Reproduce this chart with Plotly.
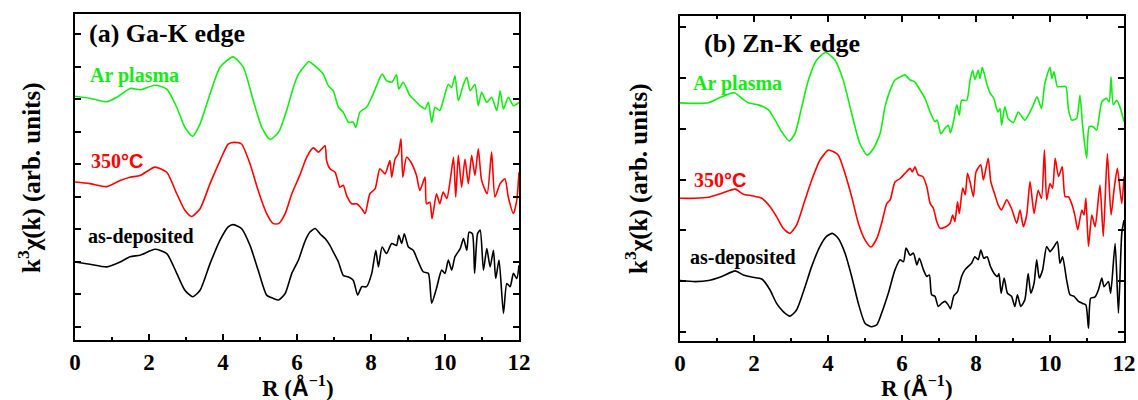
import plotly.graph_objects as go

# ---------------- data ----------------
# Panel (a) Ga-K edge
ga_ar = [(0, 7.09), (0.4, 7.03), (0.86, 6.92), (1.13, 7.06), (1.49, 7.33), (1.76, 7.29), (2.16, 7.43), (2.48, 7.31),
         (2.75, 6.75), (2.97, 6.13), (3.18, 5.86), (3.38, 6.24), (3.65, 7.16), (3.92, 7.98), (4.27, 8.30), (4.55, 7.98),
         (4.82, 6.95), (5.05, 6.13), (5.27, 5.76), (5.5, 5.98), (5.72, 6.65), (5.9, 7.36), (6.04, 7.77), (6.21, 8.03),
         (6.32, 8.16), (6.4, 8.1), (6.53, 7.98), (6.71, 7.77), (6.85, 7.41), (6.98, 7.26), (7.12, 6.75), (7.25, 6.6),
         (7.39, 6.29), (7.52, 6.29), (7.59, 6.13), (7.7, 6.6), (7.88, 6.75), (8.02, 7.06), (8.15, 7.41), (8.3, 7.77),
         (8.42, 7.57), (8.56, 7.52), (8.69, 7.75), (8.75, 7.31), (8.87, 7.52), (9.05, 7.11), (9.19, 6.95), (9.32, 6.8),
         (9.46, 6.7), (9.55, 6.9), (9.64, 6.29), (9.73, 6.75), (9.86, 6.65), (9.95, 6.95), (10.09, 7.46), (10.18, 7.36),
         (10.27, 7.72), (10.36, 6.95), (10.5, 7.46), (10.59, 7.67), (10.68, 7.26), (10.81, 7.46), (10.9, 6.8),
         (10.99, 7.21), (11.13, 6.9), (11.26, 7.06), (11.4, 6.65), (11.49, 7.26), (11.58, 6.7), (11.71, 7.06),
         (11.85, 6.8), (12, 6.9)]
ga_350 = [(0, 4.45), (0.4, 4.40), (0.86, 4.31), (1.22, 4.5), (1.49, 4.6), (1.76, 4.65), (2.16, 4.91), (2.48, 4.75),
          (2.75, 4.09), (2.97, 3.58), (3.15, 3.39), (3.38, 3.63), (3.65, 4.4), (3.92, 5.11), (4.14, 5.62), (4.32, 5.67),
          (4.5, 5.62), (4.73, 5.01), (4.95, 4.19), (5.18, 3.48), (5.36, 3.17), (5.5, 3.17), (5.68, 3.48), (5.86, 4.09),
          (6.08, 4.67), (6.26, 5.21), (6.44, 5.5), (6.58, 5.37), (6.67, 5.47), (6.76, 5.57), (6.8, 5.11), (6.89, 4.86),
          (7.03, 4.75), (7.16, 4.29), (7.25, 4.35), (7.34, 4.04), (7.48, 3.78), (7.61, 3.78), (7.75, 3.63), (7.84, 3.48),
          (7.97, 4.09), (8.11, 4.24), (8.24, 4.86), (8.38, 4.7), (8.51, 5.11), (8.56, 4.6), (8.65, 5.16), (8.74, 5.32),
          (8.81, 5.78), (8.86, 4.6), (8.96, 5.21), (9.08, 5.06), (9.23, 4.65), (9.32, 4.19), (9.46, 4.6), (9.5, 3.78),
          (9.59, 3.83), (9.65, 3.32), (9.77, 4.09), (9.86, 3.78), (9.95, 4.14), (10.05, 3.94), (10.14, 4.5),
          (10.23, 5.21), (10.29, 3.99), (10.36, 5.27), (10.45, 4.29), (10.54, 5.16), (10.63, 4.4), (10.72, 5.27),
          (10.81, 4.65), (10.9, 5.47), (10.99, 4.5), (11.14, 4.09), (11.26, 5.37), (11.35, 3.99), (11.49, 4.4),
          (11.62, 4.55), (11.71, 3.99), (11.85, 3.48), (11.94, 3.89), (12, 4.75)]
ga_dep = [(0, 1.99), (0.4, 1.92), (0.86, 1.84), (1.22, 1.99), (1.49, 2.15), (1.76, 2.2), (2.16, 2.38), (2.48, 2.25),
          (2.75, 1.64), (2.97, 1.12), (3.18, 0.92), (3.38, 1.12), (3.65, 1.94), (3.92, 2.66), (4.14, 3.07), (4.27, 3.14),
          (4.5, 3.02), (4.73, 2.5), (4.95, 1.74), (5.18, 0.97), (5.36, 0.87), (5.5, 0.82), (5.68, 1.02), (5.86, 1.64),
          (6.04, 2.05), (6.21, 2.61), (6.35, 2.91), (6.49, 3.02), (6.62, 2.86), (6.76, 2.71), (6.89, 2.5), (6.98, 2.3),
          (7.12, 1.99), (7.25, 1.58), (7.39, 1.53), (7.52, 1.43), (7.64, 0.97), (7.75, 1.23), (7.88, 1.23), (8.02, 1.64),
          (8.13, 2.35), (8.2, 1.84), (8.3, 2.45), (8.42, 2.25), (8.56, 2.56), (8.69, 2.5), (8.75, 2.81), (8.83, 2.56),
          (8.9, 2.86), (9.01, 2.45), (9.14, 2.35), (9.28, 1.99), (9.41, 1.69), (9.55, 1.64), (9.64, 0.72), (9.77, 1.18),
          (9.91, 1.74), (10.0, 1.64), (10.09, 2.05), (10.18, 1.74), (10.27, 2.15), (10.41, 2.4), (10.5, 2.71),
          (10.59, 2.35), (10.65, 2.91), (10.74, 2.86), (10.8, 1.64), (10.88, 2.86), (10.95, 2.97), (11.04, 1.74),
          (11.13, 2.4), (11.22, 1.84), (11.31, 2.35), (11.37, 1.48), (11.46, 2.05), (11.58, 0.41), (11.67, 1.33),
          (11.76, 1.23), (11.85, 1.64), (11.94, 1.48), (12, 1.89)]

# Panel (b) Zn-K edge
zn_ar = [(0, 4.51), (0.41, 4.5), (0.77, 4.51), (1.13, 4.63), (1.47, 4.71), (1.67, 4.6), (1.85, 4.51), (2.12, 4.47),
         (2.39, 4.37), (2.57, 4.17), (2.75, 3.94), (2.95, 3.76), (3.11, 3.91), (3.29, 4.43), (3.47, 4.96), (3.69, 5.35),
         (3.94, 5.5), (4.19, 5.35), (4.41, 4.96), (4.64, 4.3), (4.86, 3.71), (5.06, 3.48), (5.23, 3.61), (5.41, 3.91),
         (5.54, 4.43), (5.68, 4.76), (5.81, 4.96), (5.95, 5.02), (6.08, 5.06), (6.22, 4.96), (6.35, 4.92), (6.49, 4.76),
         (6.62, 4.6), (6.76, 4.33), (6.89, 4.14), (6.95, 4.17), (7.05, 3.9), (7.16, 4.01), (7.25, 4.07), (7.31, 3.92),
         (7.4, 4.17), (7.48, 4.47), (7.55, 4.27), (7.61, 4.56), (7.75, 4.56), (7.84, 4.96), (7.91, 5.15), (7.97, 4.97),
         (8.06, 5.15), (8.11, 4.99), (8.17, 5.21), (8.29, 4.89), (8.38, 4.7), (8.48, 4.6), (8.59, 4.33), (8.65, 4.4),
         (8.69, 4.07), (8.78, 4.43), (8.87, 4.2), (9.01, 4.12), (9.14, 4.33), (9.32, 4.17), (9.46, 4.33), (9.55, 4.47),
         (9.65, 4.63), (9.77, 4.4), (9.86, 4.89), (10.0, 5.21), (10.05, 4.99), (10.11, 5.12), (10.2, 4.83),
         (10.32, 4.83), (10.43, 4.83), (10.5, 4.37), (10.59, 4.17), (10.72, 4.2), (10.81, 4.66), (10.88, 4.07),
         (10.99, 3.42), (11.06, 4.04), (11.17, 4.04), (11.26, 3.97), (11.4, 4.53), (11.53, 4.6), (11.6, 4.53),
         (11.65, 5.02), (11.71, 4.47), (11.8, 4.56), (11.89, 4.43), (12, 4.14)]
zn_350 = [(0, 2.63), (0.41, 2.63), (0.77, 2.65), (1.13, 2.73), (1.49, 2.81), (1.71, 2.71), (1.94, 2.68), (2.21, 2.63),
          (2.43, 2.47), (2.61, 2.27), (2.79, 2.04), (2.97, 1.94), (3.15, 2.1), (3.38, 2.6), (3.56, 2.99), (3.78, 3.38),
          (4.01, 3.58), (4.14, 3.55), (4.28, 3.48), (4.46, 3.12), (4.64, 2.66), (4.82, 2.14), (5.0, 1.81), (5.16, 1.67),
          (5.32, 1.84), (5.45, 2.14), (5.59, 2.53), (5.68, 2.6), (5.81, 2.95), (5.95, 3.02), (6.08, 3.12), (6.22, 3.22),
          (6.28, 3.15), (6.35, 3.25), (6.44, 3.09), (6.56, 3.06), (6.67, 2.86), (6.76, 2.53), (6.85, 2.43), (6.94, 2.17),
          (7.03, 2.04), (7.16, 2.06), (7.3, 2.14), (7.37, 2.3), (7.43, 2.17), (7.5, 2.56), (7.55, 2.33), (7.64, 2.83),
          (7.71, 2.7), (7.77, 3.12), (7.84, 2.95), (7.93, 2.66), (8.0, 3.15), (8.13, 3.29), (8.2, 2.99), (8.33, 3.42),
          (8.4, 2.96), (8.51, 2.7), (8.6, 2.5), (8.69, 2.4), (8.83, 2.6), (8.96, 2.43), (9.1, 2.14), (9.19, 2.4),
          (9.28, 2.07), (9.37, 2.3), (9.46, 2.96), (9.57, 2.33), (9.68, 2.79), (9.77, 2.63), (9.85, 3.58), (9.91, 2.6),
          (10.0, 2.92), (10.07, 2.83), (10.14, 3.42), (10.23, 3.06), (10.33, 3.25), (10.41, 2.66), (10.5, 2.66),
          (10.61, 2.47), (10.68, 2.27), (10.75, 2.01), (10.86, 2.4), (10.92, 2.3), (10.97, 2.63), (11.04, 1.68),
          (11.13, 2.3), (11.22, 2.07), (11.35, 2.89), (11.44, 1.88), (11.55, 3.51), (11.65, 2.3), (11.73, 2.79),
          (11.82, 3.22), (11.94, 2.53), (12, 3.06)]
zn_dep = [(0, 1.01), (0.41, 0.99), (0.77, 1.01), (1.13, 1.09), (1.49, 1.2), (1.71, 1.12), (1.94, 1.08), (2.21, 1.04),
          (2.43, 0.83), (2.61, 0.56), (2.79, 0.4), (2.97, 0.31), (3.15, 0.43), (3.38, 0.89), (3.56, 1.29), (3.78, 1.68),
          (3.96, 1.88), (4.12, 1.94), (4.28, 1.84), (4.46, 1.55), (4.64, 1.09), (4.82, 0.56), (5.0, 0.17), (5.18, 0.1),
          (5.32, 0.14), (5.45, 0.37), (5.63, 0.76), (5.81, 1.22), (5.95, 1.42), (6.04, 1.38), (6.11, 1.65), (6.22, 1.51),
          (6.31, 1.55), (6.4, 1.32), (6.47, 1.45), (6.58, 1.22), (6.67, 1.09), (6.74, 1.12), (6.8, 0.73), (6.89, 0.7),
          (6.98, 0.5), (7.07, 0.56), (7.16, 0.6), (7.25, 0.53), (7.31, 0.45), (7.4, 0.71), (7.5, 0.79), (7.61, 1.09),
          (7.7, 1.22), (7.79, 1.29), (7.88, 1.35), (7.97, 1.48), (8.06, 1.42), (8.13, 1.61), (8.21, 1.45), (8.3, 1.48),
          (8.39, 1.29), (8.49, 1.15), (8.58, 1.09), (8.62, 1.15), (8.68, 0.76), (8.76, 1.06), (8.85, 0.76), (8.96, 0.7),
          (9.05, 0.5), (9.12, 0.73), (9.21, 0.5), (9.32, 0.63), (9.41, 1.15), (9.48, 0.76), (9.57, 0.96), (9.64, 1.42),
          (9.71, 1.06), (9.8, 1.22), (9.91, 1.68), (10.0, 1.58), (10.11, 1.68), (10.2, 1.78), (10.27, 1.35),
          (10.34, 1.48), (10.45, 1.02), (10.54, 0.73), (10.65, 0.7), (10.77, 0.6), (10.88, 0.56), (10.97, 0.53),
          (11.04, 0.07), (11.1, 0.66), (11.22, 0.69), (11.31, 0.83), (11.4, 1.06), (11.46, 0.89), (11.58, 0.99),
          (11.64, 0.76), (11.76, 1.74), (11.85, 0.37), (11.94, 1.94), (12, 2.2)]

series_names = ["Ar plasma", "350°C", "as-deposited"]
x_ticks = [0, 2, 4, 6, 8, 10, 12]

# ---------------- styling ----------------
GREEN = "rgb(20,235,20)"
RED = "rgb(255,0,0)"
BLACK = "rgb(0,0,0)"
SERIF = "'Liberation Serif', 'Times New Roman', Tinos, 'DejaVu Serif', serif"

fig = go.Figure()


def add(data, color, xa, ya, name):
    xs = [p[0] for p in data]
    ys = [p[1] for p in data]
    fig.add_trace(go.Scatter(x=xs, y=ys, mode="lines", name=name, xaxis=xa, yaxis=ya,
                             line=dict(color=color, width=1.6, shape="spline", smoothing=0.6),
                             showlegend=False, hoverinfo="skip"))


add(ga_ar, GREEN, "x", "y", series_names[0])
add(ga_350, RED, "x", "y", series_names[1])
add(ga_dep, BLACK, "x", "y", series_names[2])
add(zn_ar, GREEN, "x2", "y2", series_names[0])
add(zn_350, RED, "x2", "y2", series_names[1])
add(zn_dep, BLACK, "x2", "y2", series_names[2])

W, H = 1138, 400


def xaxis(dom, mirror):
    return dict(domain=dom, range=[0, 12], showgrid=False, zeroline=False,
                showline=True, linecolor="black", linewidth=2, mirror=mirror,
                ticks="inside", ticklen=6, tickwidth=1.5, tickcolor="black",
                tickvals=x_ticks, ticktext=[str(v) for v in x_ticks],
                minor=dict(ticks="inside", ticklen=3, tickwidth=1.5, dtick=1, tickcolor="black", showgrid=False),
                tickfont=dict(family=SERIF, size=23, color="black", weight="bold"),
                ticklabelstandoff=0, automargin=False)


def yaxis(dom, rng, xa):
    return dict(domain=dom, range=rng, showgrid=False, zeroline=False,
                showline=True, linecolor="black", linewidth=2, mirror="ticks",
                ticks="inside", ticklen=6, tickwidth=1.5, tickcolor="black",
                dtick=1, tick0=0, showticklabels=False, anchor=xa, automargin=False)


fig.update_layout(
    width=W, height=H, autosize=False,
    margin=dict(l=0, r=0, t=0, b=0, pad=0, autoexpand=False),
    paper_bgcolor="white", plot_bgcolor="white",
    font=dict(family=SERIF),
    xaxis=xaxis([75 / W, 519 / W], True) | dict(anchor="y"),
    yaxis=yaxis([1 - 340 / H, 1 - 14 / H], [-0.41, 9.62], "x"),
    xaxis2=xaxis([680 / W, 1124 / W], "ticks") | dict(anchor="y2"),
    yaxis2=yaxis([1 - 341 / H, 1 - 16 / H], [-0.18, 6.22], "x2"),
)

ann = []


def label(text, px, py, color, size=20, angle=0):
    ann.append(dict(text=text, x=px / W, y=1 - py / H, xref="paper", yref="paper",
                    xanchor="center", yanchor="middle", showarrow=False, textangle=angle,
                    font=dict(family=SERIF, size=size, color=color, weight="bold")))


deg_c = "350<span style=\"font-family:'Liberation Sans', Arial, sans-serif\">°C</span>"
r_title = "R (<span style=\"font-family:'Liberation Sans', Arial, sans-serif\">Å</span><sup>−1</sup>)"
y_title = "k<sup>3</sup>χ(k) (arb. units)"

# panel (a)  (centres of the texts, in picture pixels)
label("(a) Ga-K edge", 167, 33, BLACK, size=26)
label(series_names[0], 134.5, 75, GREEN)
label(deg_c, 116.5, 161, RED)
label(series_names[2], 141, 236, BLACK)
# panel (b)
label("(b) Zn-K edge", 781.5, 43, BLACK, size=26)
label(series_names[0], 737, 83, GREEN)
label(deg_c, 720, 180, RED)
label(series_names[2], 742.5, 257, BLACK)
# axis titles
label(r_title, 298, 386, BLACK, size=23)
label(r_title, 917, 386, BLACK, size=23)
label(y_title, 29.5, 178.5, BLACK, size=25, angle=-90)
label(y_title, 636, 179, BLACK, size=25, angle=-90)

fig.update_layout(annotations=ann)
fig.write_html("out.html", config={"displayModeBar": False},
               post_script="document.body.style.margin='0px';document.body.style.overflow='hidden';")
